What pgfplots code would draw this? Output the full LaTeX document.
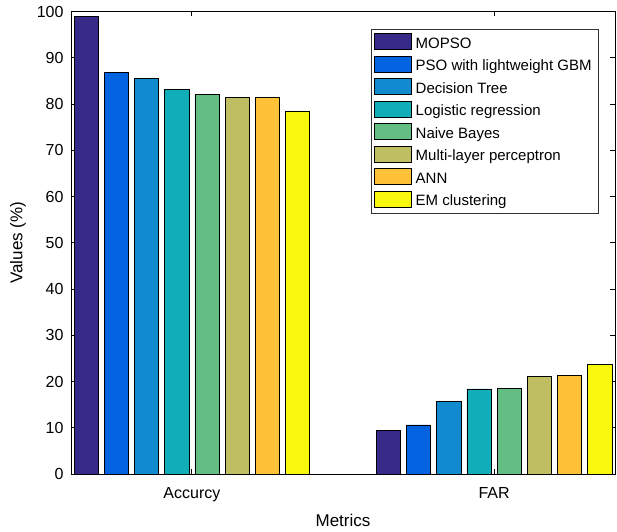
\documentclass[border=0pt]{standalone}
\usepackage{pgfplots}
\pgfplotsset{compat=1.18}
\usepackage{fontspec}
\setmainfont{Liberation Sans}
\definecolor{c1}{RGB}{53,42,135}
\definecolor{c2}{RGB}{3,99,225}
\definecolor{c3}{RGB}{18,138,208}
\definecolor{c4}{RGB}{15,174,185}
\definecolor{c5}{RGB}{99,190,132}
\definecolor{c6}{RGB}{191,190,99}
\definecolor{c7}{RGB}{255,193,55}
\definecolor{c8}{RGB}{248,248,14}
\begin{document}
\begin{tikzpicture}
\begin{axis}[name=ax, scale only axis, width=544pt, height=462.5pt,
 xmin=0.6, xmax=2.4, ymin=0, ymax=100,
 ybar, bar width=0.08, bar shift=0pt,
 xtick={1,2}, xticklabels={Accurcy, FAR},
 ytick={0,10,...,100},
 tick align=inside, major tick length=5pt,
 axis line style={line width=0.8pt},
 tick style={black, line width=0.8pt},
 ticklabel style={font=\fontsize{16}{18}\selectfont},
 xticklabel style={font=\fontsize{16}{18}\selectfont, yshift=-10pt},
 yticklabel style={xshift=-4pt},
 /pgf/number format/assume math mode=true,
 xlabel={Metrics}, ylabel={Values (\%)},
 xlabel shift=5pt, ylabel shift=4pt,
 label style={font=\fontsize{17}{20}\selectfont},
 legend style={at={(0.9706,0.962)}, anchor=north east, draw=black!80, line width=0.8pt,
   font=\fontsize{15}{17}\selectfont, row sep=4pt, inner xsep=3pt, inner ysep=4pt,
   nodes={inner xsep=4pt}},
 legend cell align=left,
 legend image code/.code={\draw[#1, line width=0.7pt] (0pt,-6pt) rectangle (37pt,10pt);},
 every axis plot/.append style={draw=black, line width=0.7pt},
]
\addplot[fill=c1] coordinates {(0.65,99.0) (1.65,9.5)};
\addplot[fill=c2] coordinates {(0.75,86.9) (1.75,10.6)};
\addplot[fill=c3] coordinates {(0.85,85.5) (1.85,15.7)};
\addplot[fill=c4] coordinates {(0.95,83.2) (1.95,18.4)};
\addplot[fill=c5] coordinates {(1.05,82.1) (2.05,18.5)};
\addplot[fill=c6] coordinates {(1.15,81.5) (2.15,21.1)};
\addplot[fill=c7] coordinates {(1.25,81.5) (2.25,21.3)};
\addplot[fill=c8] coordinates {(1.35,78.5) (2.35,23.7)};
\legend{MOPSO, PSO with lightweight GBM, Decision Tree, Logistic regression, Naive Bayes, Multi-layer perceptron, ANN, EM clustering}
\end{axis}
\path (ax.south west) ++(-71pt,-57pt) (ax.north east) ++(2pt,11.5pt);
\end{tikzpicture}
\end{document}
